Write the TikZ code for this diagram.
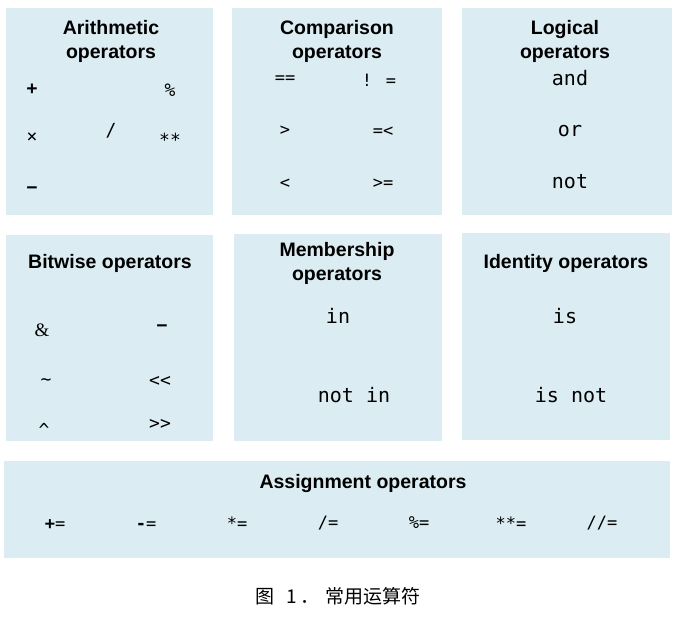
\documentclass[tikz,border=0pt]{standalone}
\usepackage{fontspec}
\setmainfont{Liberation Sans}
\newfontfamily\opmono{DejaVu Sans Mono}
\newfontfamily\opserif{Liberation Serif}
\newfontfamily\cjk{Noto Sans CJK SC}
\definecolor{boxblue}{RGB}{219,237,243}
\begin{document}
\begin{tikzpicture}[x=1pt,y=-1pt,
  panel/.style={fill=boxblue,draw=none,inner sep=0pt,anchor=north west},
  ttl/.style={inner sep=0pt,align=center,font=\bfseries\fontsize{19.5}{24}\selectfont},
  opm/.style={inner sep=0pt,font=\opmono\fontsize{20}{22}\selectfont},
  ops/.style={inner sep=0pt,font=\opmono\fontsize{18}{20}\selectfont},
  opc/.style={inner sep=0pt,font=\opmono\fontsize{17}{20}\selectfont},
  opa/.style={inner sep=0pt,font=\opmono\fontsize{17}{20}\selectfont}]
\useasboundingbox (0,0) rectangle (688,618);
% panels
\node[panel,minimum width=207pt,minimum height=207pt] (p1) at (6,8) {};
\node[panel,minimum width=210pt,minimum height=207pt] (p2) at (232,8) {};
\node[panel,minimum width=210pt,minimum height=207pt] (p3) at (462,8) {};
\node[panel,minimum width=207pt,minimum height=206pt] (p4) at (6,235) {};
\node[panel,minimum width=208pt,minimum height=207pt] (p5) at (234,234) {};
\node[panel,minimum width=208pt,minimum height=207pt] (p6) at (462,233) {};
\node[panel,minimum width=666pt,minimum height=97pt] (p7) at (4,461) {};
% titles
\node[ttl] (t1) at (111,41) {Arithmetic\\operators};
\node[ttl] (t2) at (337,41) {Comparison\\operators};
\node[ttl] (t3) at (565,41) {Logical\\operators};
\node[ttl] (t4) at (110,263) {Bitwise operators};
\node[ttl] (t5) at (337,263) {Membership\\operators};
\node[ttl] (t6) at (566,263) {Identity operators};
\node[ttl] (t7) at (363,483) {Assignment operators};
% arithmetic
\node[ops] (a1) at (32,89) {\textbf{+}};
\node[ops] (a2) at (170,90) {\%};
\node[ops] (a3) at (32,138) {×};
\node[ops] (a4) at (111,131) {/};
\node[ops] (a5) at (170,140) {**};
\node[ops] (a6) at (32,190) {\textbf{−}};
% comparison
\node[opc] (c1) at (285,80) {==};
\node[opc] (c2) at (379,80) {! =};
\node[opc] (c3) at (285,131) {>};
\node[opc] (c4) at (383,132) {=<};
\node[opc] (c5) at (285,184) {<};
\node[opc] (c6) at (383,184) {>=};
% logical
\node[opm] (l1) at (570,78) {and};
\node[opm] (l2) at (570,131) {or};
\node[opm] (l3) at (570,182) {not};
% bitwise
\node[inner sep=0pt,font=\opserif\fontsize{19}{20}\selectfont] (w1) at (42,330) {\&};
\node[ops] (w2) at (162,328) {\textbf{−}};
\node[ops] (w3) at (46,382) {\textasciitilde};
\node[ops] (w4) at (160,381) {<<};
\node[ops] (w5) at (44,430) {\textasciicircum};
\node[ops] (w6) at (160,424) {>>};
% membership
\node[opm] (m1) at (338,316) {in};
\node[opm] (m2) at (354,395) {not in};
% identity
\node[opm] (i1) at (565,316) {is};
\node[opm] (i2) at (571,395) {is not};
% assignment
\node[opa] (s1) at (55,525) {\textbf{+}=};
\node[opa] (s2) at (146,526) {\textbf{-}=};
\node[opa] (s3) at (237,523) {*=};
\node[opa] (s4) at (328,523) {/=};
\node[opa] (s5) at (419,523) {\%=};
\node[opa] (s6) at (511,523) {**=};
\node[opa] (s7) at (602,523) {//=};
% caption
\node[inner sep=0pt,font=\cjk\fontsize{19}{22}\selectfont] (cap) at (338,596) {图\hspace{12pt}1\hspace{3pt}．\hspace{6pt}常用运算符};
\end{tikzpicture}
\end{document}
